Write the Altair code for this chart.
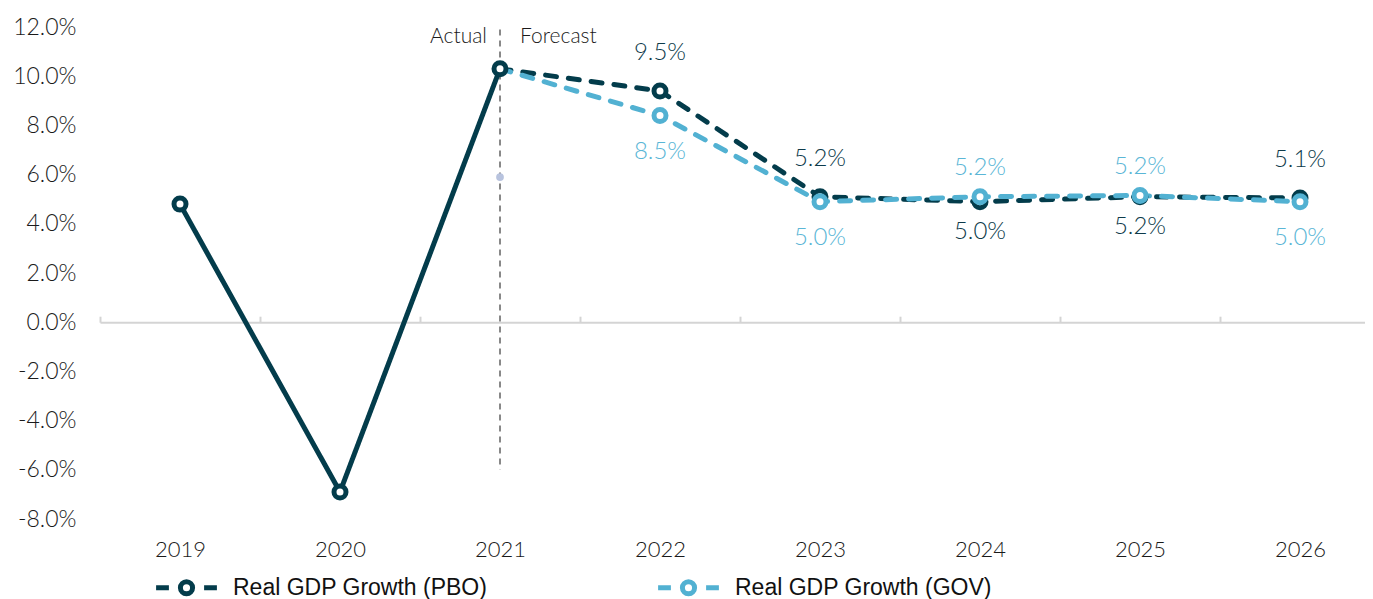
import altair as alt
import pandas as pd

# ---------------- data ----------------
years = ["2019", "2020", "2021", "2022", "2023", "2024", "2025", "2026"]
pbo_values = [4.8, -6.9, 10.3, 9.4, 5.1, 4.9, 5.1, 5.05]
gov_years = ["2021", "2022", "2023", "2024", "2025", "2026"]
gov_values = [10.3, 8.4, 4.9, 5.1, 5.15, 4.9]

label_years = ["2022", "2023", "2024", "2025", "2026"]
pbo_labels = ["9.5%", "5.2%", "5.0%", "5.2%", "5.1%"]
pbo_label_side = ["above", "above", "below", "below", "above"]
gov_labels = ["8.5%", "5.0%", "5.2%", "5.2%", "5.0%"]
gov_label_side = ["below", "below", "above", "above", "below"]

series_names = ["Real GDP Growth (PBO)", "Real GDP Growth (GOV)"]
series_colors = ["#033c4b", "#52b1d2"]

divider_year = ["2021"]
divider_top = [11.9]
divider_bottom = [-6.0]
divider_texts = ["Actual", "Forecast"]
divider_text_y = [11.6]

stray_dot_year = ["2021"]
stray_dot_value = [5.9]

y_ticks = [-8, -6, -4, -2, 0, 2, 4, 6, 8, 10, 12]

# ---------------- tables ----------------
actual_idx = [0, 1, 2]
forecast_idx = [2, 3, 4, 5, 6, 7]
line_rows = []
for i in actual_idx:
    line_rows.append({"year": years[i], "value": pbo_values[i], "series": series_names[0], "seg": "PBO-actual", "kind": "actual"})
for i in forecast_idx:
    line_rows.append({"year": years[i], "value": pbo_values[i], "series": series_names[0], "seg": "PBO-forecast", "kind": "forecast"})
for y, v in zip(gov_years, gov_values):
    line_rows.append({"year": y, "value": v, "series": series_names[1], "seg": "GOV-forecast", "kind": "forecast"})
lines_df = pd.DataFrame(line_rows)

pbo_pts = pd.DataFrame({"year": years, "value": pbo_values, "series": series_names[0]})
gov_pts = pd.DataFrame({"year": gov_years[1:], "value": gov_values[1:], "series": series_names[1]})

pbo_lab = pd.DataFrame({"year": label_years,
                        "value": [pbo_values[years.index(y)] for y in label_years],
                        "text": pbo_labels, "side": pbo_label_side})
gov_lab = pd.DataFrame({"year": label_years,
                        "value": [gov_values[gov_years.index(y)] for y in label_years],
                        "text": gov_labels, "side": gov_label_side})

divider_df = pd.DataFrame({"year": divider_year, "value": divider_top, "bottom": divider_bottom})
div_text_df = pd.DataFrame({"year": divider_year * 2, "value": divider_text_y * 2, "text": divider_texts})
stray_df = pd.DataFrame({"year": stray_dot_year, "value": stray_dot_value})

# ---------------- scales / axes ----------------
FONT = "Lato"
H = 492
zero_px = H * 12 / 20

x_scale = alt.Scale(domain=years, range=[0, 1280], paddingInner=0, paddingOuter=0)
y_scale = alt.Scale(domain=[-8, 12], nice=False, zero=False)

x_axis = alt.Axis(
    orient="top", offset=-zero_px, title=None, tickBand="extent",
    domainColor="#d4d4d4", domainWidth=2, tickColor="#d4d4d4", tickWidth=2, tickSize=6,
    labelPadding=-233, labelBaseline="middle", labelAngle=0,
    labelFont=FONT, labelFontSize=22, labelFontWeight=300, labelColor="#1a1a1a", grid=False,
)
y_axis = alt.Axis(
    values=y_ticks, title=None, domain=False, ticks=False, grid=False,
    labelExpr="(datum.value < 0 ? '-' : '') + format(abs(datum.value), '.1f') + '%'",
    labelFont=FONT, labelFontSize=23, labelFontWeight=300, labelColor="#1a1a1a", labelPadding=24,
)

X = alt.X("year:O", scale=x_scale, axis=x_axis)
Y = alt.Y("value:Q", scale=y_scale, axis=y_axis)

legend_symbol = ("M-0.95,0L-0.55,0M0.55,0L0.95,0"
                 "M0.19,0A0.19,0.19,0,1,1,-0.19,0A0.19,0.19,0,1,1,0.19,0")

color_enc = alt.Color(
    "series:N",
    scale=alt.Scale(domain=series_names, range=series_colors),
    legend=alt.Legend(
        orient="none", legendX=52, legendY=526, direction="horizontal", columns=2,
        title=None, symbolType=legend_symbol, symbolSize=4096, symbolStrokeWidth=5,
        symbolFillColor="white", labelFont="Liberation Sans", labelFontSize=23,
        labelColor="#111111", labelOffset=12, labelLimit=500, columnPadding=160, padding=0,
    ),
)
stroke_enc = alt.Stroke("series:N", scale=alt.Scale(domain=series_names, range=series_colors), legend=None)

# ---------------- layers ----------------
divider = alt.Chart(divider_df).mark_rule(color="#6b6b6b", strokeWidth=1.6, strokeDash=[6, 5]).encode(
    x=X, y=Y, y2="bottom:Q"
)

stray = alt.Chart(stray_df).mark_circle(color="#b8c3de", size=60, opacity=1).encode(x=X, y=Y)

lines = alt.Chart(lines_df).mark_line(strokeWidth=5, strokeCap="round", strokeJoin="round").encode(
    x=X, y=Y, detail="seg:N", color=color_enc,
    strokeDash=alt.StrokeDash("kind:N", scale=alt.Scale(domain=["actual", "forecast"], range=[[1, 0], [11, 12]]), legend=None),
    order=alt.Order("year:O"),
)

pbo_points = alt.Chart(pbo_pts).mark_point(filled=False, fill="white", fillOpacity=1, size=144, strokeWidth=5, opacity=1).encode(
    x=X, y=Y, stroke=stroke_enc
)
gov_points = alt.Chart(gov_pts).mark_point(filled=False, fill="white", fillOpacity=1, size=144, strokeWidth=5, opacity=1).encode(
    x=X, y=Y, stroke=stroke_enc
)

def label_layer(df, side, dy, color):
    return alt.Chart(df).transform_filter(alt.datum.side == side).mark_text(
        font=FONT, fontSize=24, fontWeight=300, color=color, dy=dy, baseline="middle", align="center"
    ).encode(x=X, y=Y, text="text:N")

pbo_above = label_layer(pbo_lab, "above", -38, "#0d3a4a")
pbo_below = label_layer(pbo_lab, "below", 30, "#0d3a4a")
gov_above = label_layer(gov_lab, "above", -29, "#5ab6d6")
gov_below = label_layer(gov_lab, "below", 36, "#5ab6d6")

actual_txt = alt.Chart(div_text_df).transform_filter(alt.datum.text == "Actual").mark_text(
    font=FONT, fontSize=21, fontWeight=300, color="#1a1a1a", align="right", dx=-13, baseline="middle"
).encode(x=X, y=Y, text="text:N")
forecast_txt = alt.Chart(div_text_df).transform_filter(alt.datum.text == "Forecast").mark_text(
    font=FONT, fontSize=21, fontWeight=300, color="#1a1a1a", align="left", dx=20, baseline="middle"
).encode(x=X, y=Y, text="text:N")

chart = alt.layer(
    divider, stray, lines, pbo_points, gov_points,
    pbo_above, pbo_below, gov_above, gov_below, actual_txt, forecast_txt,
).properties(
    width=1265, height=H,
    autosize=alt.AutoSizeParams(type="none"),
    padding={"left": 92, "top": 19, "right": 0, "bottom": 80},
).configure_view(stroke=None)

chart.save("out.html", embed_options={"renderer": "svg", "actions": False})
